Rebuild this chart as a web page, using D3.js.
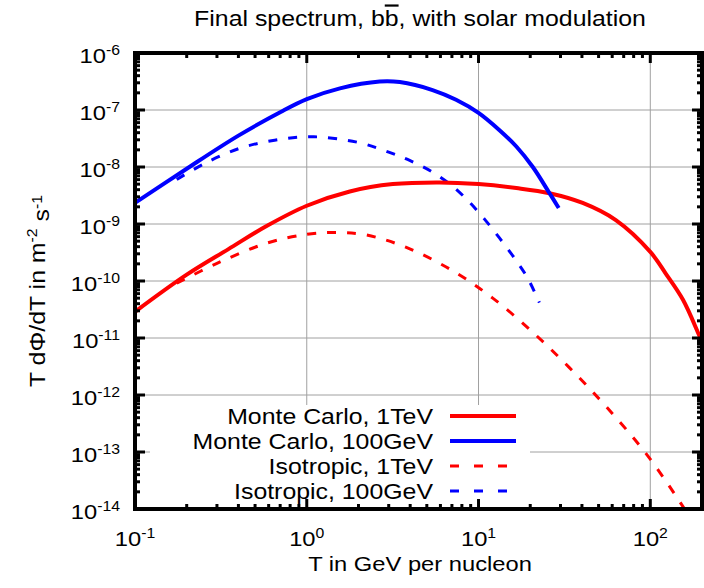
<!DOCTYPE html>
<html>
<head>
<meta charset="utf-8">
<script src="https://cdn.jsdelivr.net/npm/d3@7"></script>
<style>
  body { margin: 0; background: #fff; }
  text { font-family: "Liberation Sans", Arial, sans-serif; fill: #000; }
</style>
</head>
<body>
<div id="chart"></div>
<script>
// Values (T in GeV/nucleon, flux in m^-2 s^-1)
const mc1TeV_T    = [0.1, 0.2, 0.35, 0.58, 1, 1.78, 3.17, 5.93, 10, 16.6, 25.9, 40.4, 63, 100, 123, 155, 193, 200];
const mc1TeV_F    = [2.88e-11, 1.29e-10, 3.63e-10, 9.12e-10, 2.09e-9, 3.72e-9, 5.01e-9, 5.37e-9, 5.01e-9, 4.27e-9, 3.47e-9, 2.34e-9, 1.17e-9, 3.24e-10, 1.35e-10, 4.68e-11, 1.10e-11, 8.7e-12];

const mc100GeV_T  = [0.1, 0.2, 0.4, 0.7, 1, 1.56, 2.66, 3.48, 5.4, 7.4, 10, 13.2, 16.6, 20.7, 25.9, 29.3];
const mc100GeV_F  = [2.34e-9, 9.33e-9, 3.55e-8, 9.12e-8, 1.55e-7, 2.40e-7, 3.16e-7, 3.09e-7, 2.24e-7, 1.51e-7, 8.91e-8, 4.47e-8, 2.29e-8, 1.0e-8, 3.47e-9, 1.91e-9];

const iso1TeV_T   = [0.175, 0.3, 0.58, 1, 1.5, 2.2, 3.8, 7.08, 12.1, 20.7, 33.8, 55.2, 94, 155, 200];
const iso1TeV_F   = [9.12e-11, 2.04e-10, 4.57e-10, 6.61e-10, 7.08e-10, 6.46e-10, 3.89e-10, 1.51e-10, 5.01e-11, 1.26e-11, 3.02e-12, 6.31e-13, 9.55e-14, 1.10e-14, 3.16e-15];

const iso100GeV_T = [0.175, 0.25, 0.4, 0.65, 1.1, 2, 3, 4, 5.4, 7.08, 8.87, 10.8, 13.2, 16.2, 19.4, 22.6];
const iso100GeV_F = [6.03e-9, 1.12e-8, 2.09e-8, 2.95e-8, 3.39e-8, 2.69e-8, 1.82e-8, 1.29e-8, 8.13e-9, 4.57e-9, 2.40e-9, 1.23e-9, 5.75e-10, 2.51e-10, 1.10e-10, 4.17e-11];

const seriesNames  = ["Monte Carlo, 1TeV", "Monte Carlo, 100GeV", "Isotropic, 1TeV", "Isotropic, 100GeV"];
const seriesColors = ["#ff0000", "#0000ff", "#ff0000", "#0000ff"];
const seriesDashed = [false, false, true, true];

const xMajor = [0.1, 1, 10, 100];
const yMajor = [1e-14, 1e-13, 1e-12, 1e-11, 1e-10, 1e-9, 1e-8, 1e-7, 1e-6];

const width = 704, height = 588;
const margin = { top: 53, right: 2, bottom: 79, left: 135 };
const stretch = 1.13; // reference font is a little wider than Liberation Sans

const svg = d3.select("#chart").append("svg")
    .attr("width", width)
    .attr("height", height);

const x = d3.scaleLog()
    .domain([0.1, 200])
    .range([margin.left, width - margin.right]);

const y = d3.scaleLog()
    .domain([1e-14, 1e-6])
    .range([height - margin.bottom, margin.top]);

const x0 = margin.left, x1 = width - margin.right;
const y0 = height - margin.bottom, y1 = margin.top;

// text placed in a group, so it can be widened like the original
function label(px, py, anchor, size, rot) {
    return svg.append("g")
        .attr("transform", `translate(${px},${py})${rot ? ` rotate(${rot})` : ""} scale(${stretch},1)`)
        .append("text")
        .attr("text-anchor", anchor)
        .style("font-size", size + "px");
}
function sup(t, s) {
    t.append("tspan").attr("dy", "-0.55em").style("font-size", "14px").text(s);
}

// minor ticks: 2..9 in every decade
const xMinor = [];
for (let e = -1; e <= 2; e++) for (let m = 2; m <= 9; m++) {
    const v = m * Math.pow(10, e);
    if (v < 200) xMinor.push(v);
}
const yMinor = [];
for (let e = -14; e < -6; e++) for (let m = 2; m <= 9; m++) yMinor.push(m * Math.pow(10, e));

// grid
const grid = svg.append("g").attr("stroke", "#a0a0a0").attr("stroke-width", 1);
grid.selectAll("line.gx")
    .data(xMajor.slice(1))
    .join("line")
    .attr("x1", d => x(d)).attr("x2", d => x(d))
    .attr("y1", y0).attr("y2", y1);
grid.selectAll("line.gy")
    .data(yMajor.slice(1, -1))
    .join("line")
    .attr("x1", x0).attr("x2", x1)
    .attr("y1", d => y(d)).attr("y2", d => y(d));

// legend box (opaque, hides grid below)
const legend = { left: 150, right: 530, top: 405, rowY: [416, 441, 466, 491] };
svg.append("rect")
    .attr("x", legend.left)
    .attr("y", legend.top)
    .attr("width", legend.right - legend.left)
    .attr("height", y0 - legend.top)
    .attr("fill", "#fff");

// curves
svg.append("defs").append("clipPath").attr("id", "plotclip")
    .append("rect")
    .attr("x", x0).attr("y", y1)
    .attr("width", x1 - x0).attr("height", y0 - y1);

const line = d3.line()
    .x(d => x(d[0]))
    .y(d => y(d[1]))
    .curve(d3.curveCatmullRom.alpha(0.5));

const allT = [mc1TeV_T, mc100GeV_T, iso1TeV_T, iso100GeV_T];
const allF = [mc1TeV_F, mc100GeV_F, iso1TeV_F, iso100GeV_F];

const curves = svg.append("g").attr("clip-path", "url(#plotclip)");
// dashed first, solid on top
[3, 2, 0, 1].forEach(i => {
    curves.append("path")
        .datum(allT[i].map((t, k) => [t, allF[i][k]]))
        .attr("fill", "none")
        .attr("stroke", seriesColors[i])
        .attr("stroke-width", seriesDashed[i] ? 3 : 4)
        .attr("stroke-dasharray", seriesDashed[i] ? "9,11" : null)
        .attr("d", line);
});

// legend entries
seriesNames.forEach((name, i) => {
    const ly = legend.rowY[i];
    label(433, ly, "end", 22).attr("dy", "0.35em").text(name);
    svg.append("line")
        .attr("x1", 450).attr("x2", seriesDashed[i] ? 507 : 516)
        .attr("y1", ly).attr("y2", ly)
        .attr("stroke", seriesColors[i])
        .attr("stroke-width", seriesDashed[i] ? 3 : 4)
        .attr("stroke-dasharray", seriesDashed[i] ? "9,15" : null);
});

// ticks (inward, mirrored)
const ticks = svg.append("g").attr("stroke", "#000").attr("stroke-width", 3);
ticks.selectAll("line.xmaj")
    .data(xMajor.flatMap(d => [[d, y0, -1], [d, y1, 1]]))
    .join("line")
    .attr("x1", d => x(d[0])).attr("x2", d => x(d[0]))
    .attr("y1", d => d[1]).attr("y2", d => d[1] + d[2] * 10);
ticks.selectAll("line.xmin")
    .data(xMinor.flatMap(d => [[d, y0, -1], [d, y1, 1]]))
    .join("line")
    .attr("x1", d => x(d[0])).attr("x2", d => x(d[0]))
    .attr("y1", d => d[1]).attr("y2", d => d[1] + d[2] * 5);
ticks.selectAll("line.ymaj")
    .data(yMajor.flatMap(d => [[d, x0, 1], [d, x1, -1]]))
    .join("line")
    .attr("y1", d => y(d[0])).attr("y2", d => y(d[0]))
    .attr("x1", d => d[1]).attr("x2", d => d[1] + d[2] * 10);
ticks.selectAll("line.ymin")
    .data(yMinor.flatMap(d => [[d, x0, 1], [d, x1, -1]]))
    .join("line")
    .attr("y1", d => y(d[0])).attr("y2", d => y(d[0]))
    .attr("x1", d => d[1]).attr("x2", d => d[1] + d[2] * 5);

// frame
svg.append("rect")
    .attr("x", x0).attr("y", y1)
    .attr("width", x1 - x0).attr("height", y0 - y1)
    .attr("fill", "none")
    .attr("stroke", "#000")
    .attr("stroke-width", 4);

// tick labels
yMajor.forEach(v => {
    const t = label(120, y(v) + 10, "end", 21);
    t.append("tspan").text("10");
    sup(t, Math.round(Math.log10(v)));
});
xMajor.forEach(v => {
    const t = label(x(v), 546, "middle", 21);
    t.append("tspan").text("10");
    sup(t, Math.round(Math.log10(v)));
});

// title
const title = label(420, 26, "middle", 22);
title.append("tspan").text("Final spectrum, b");
title.append("tspan").style("text-decoration", "overline").text("b");
title.append("tspan").text(", with solar modulation");

// axis titles
label(420, 571, "middle", 21).text("T in GeV per nucleon");

const yl = label(45, 291, "middle", 22, -90);
yl.append("tspan").text("T d\u03A6/dT in m");
sup(yl, "-2");
yl.append("tspan").attr("dy", "0.55em").text(" s");
sup(yl, "-1");
</script>
</body>
</html>
